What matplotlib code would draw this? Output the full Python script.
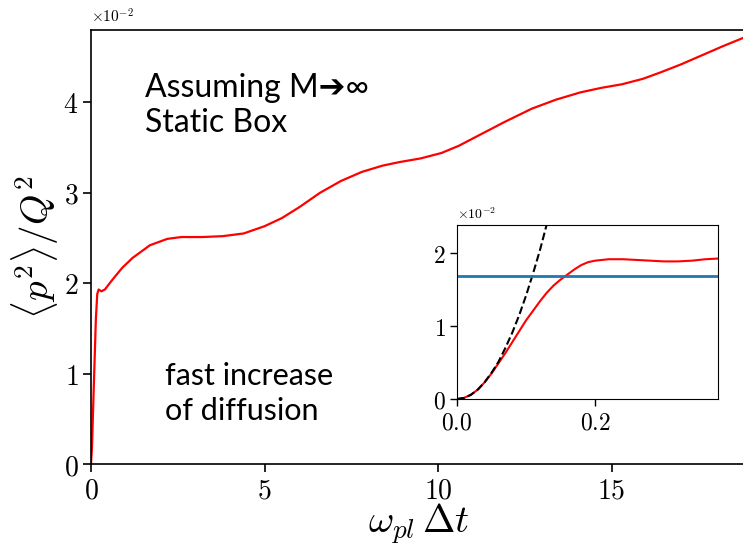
import matplotlib
matplotlib.use("Agg")
import matplotlib.pyplot as plt
from matplotlib.ticker import FuncFormatter
import numpy as np

plt.rcParams['mathtext.fontset'] = 'cm'

# main curve
t_main = [0, 0.03, 0.06, 0.1, 0.14, 0.18, 0.22, 0.3, 0.4, 0.6, 0.9, 1.2, 1.7, 2.2, 2.6, 3.2,
          3.8, 4.4, 5.0, 5.5, 6.0, 6.6, 7.2, 7.8, 8.4, 8.9, 9.5, 10.1, 10.6, 11.2, 11.9,
          12.7, 13.4, 14.1, 14.7, 15.3, 15.9, 16.4, 17.0, 17.6, 18.2, 18.9]
p_main = [0, 0.002, 0.006, 0.011, 0.016, 0.0188, 0.0193, 0.0191, 0.0193, 0.0203, 0.0217,
          0.0228, 0.0242, 0.0249, 0.0251, 0.0251, 0.0252, 0.0255, 0.0263, 0.0272, 0.0284,
          0.0300, 0.0313, 0.0323, 0.0330, 0.0334, 0.0338, 0.0344, 0.0352, 0.0364, 0.0378,
          0.0393, 0.0403, 0.0411, 0.0416, 0.0420, 0.0426, 0.0433, 0.0442, 0.0452, 0.0462, 0.0473]

# inset: early times
t_in = [0, 0.01, 0.02, 0.03, 0.04, 0.05, 0.06, 0.07, 0.08, 0.09, 0.10, 0.11, 0.12, 0.13,
        0.14, 0.15, 0.16, 0.17, 0.18, 0.19, 0.20, 0.22, 0.24, 0.26, 0.28, 0.30, 0.32, 0.34,
        0.36, 0.38]
p_in = [0, 0.00014, 0.00057, 0.00128, 0.0023, 0.0035, 0.0049, 0.0063, 0.0078, 0.0093, 0.0108,
        0.0121, 0.0134, 0.0146, 0.0156, 0.0164, 0.0171, 0.0178, 0.0184, 0.0188, 0.0190,
        0.0192, 0.0192, 0.0191, 0.0190, 0.0189, 0.0189, 0.0190, 0.0192, 0.0193]
t_short = [0, 0.01, 0.02, 0.03, 0.04, 0.05, 0.06, 0.07, 0.08, 0.09, 0.10, 0.11, 0.12, 0.13]
p_short = [0, 0.00014, 0.00057, 0.00128, 0.0023, 0.0036, 0.0051, 0.0070, 0.0091, 0.0115,
           0.0142, 0.0172, 0.0204, 0.0240]
p_level = 0.0169

scale = 100  # axis shows values in units of 1e-2

num = FuncFormatter(lambda v, pos: '$%g$' % v)
num1 = FuncFormatter(lambda v, pos: '$%.1f$' % v)

fig = plt.figure(figsize=(7.43, 5.48), dpi=100)
ax = fig.add_axes([91/743, 84/548, 656/743, 434/548])
ax.plot(t_main, np.array(p_main) * scale, color='red', lw=1.6)
ax.set_xlim(0, 18.9)
ax.set_ylim(0, 4.8)
ax.set_xticks([0, 5, 10, 15])
ax.set_yticks([0, 1, 2, 3, 4])
ax.xaxis.set_major_formatter(num)
ax.yaxis.set_major_formatter(num)
ax.tick_params(labelsize=20, length=6, width=1.2, pad=3)
for s in ax.spines.values():
    s.set_linewidth(1.2)
ax.text(0, 1.01, r'$\times10^{-2}$', transform=ax.transAxes, fontsize=11, va='bottom')
ax.set_xlabel(r'$\omega_{pl}\,\Delta t$', fontsize=28, labelpad=-2)
ax.set_ylabel(r'$\langle p^2\rangle/Q^2$', fontsize=28, labelpad=2)

fig.text(145/743, 1 - 73/548, 'Assuming M➔∞\nStatic Box', fontsize=23, va='top',
         family=['Lato', 'DejaVu Sans'], linespacing=1.2)
fig.text(165/743, 1 - 362/548, 'fast increase\nof diffusion', fontsize=22, va='top',
         family=['Lato', 'DejaVu Sans'], linespacing=1.3)

ins = fig.add_axes([457/743, 149/548, 261/743, 174/548])
ins.plot(t_in, np.array(p_in) * scale, color='red', lw=1.5)
ins.plot(t_short, np.array(p_short) * scale, 'k--', lw=1.5)
ins.axhline(p_level * scale, color='#1f77b4', lw=2)
ins.set_xlim(0, 0.378)
ins.set_ylim(0, 2.39)
ins.set_xticks([0.0, 0.2])
ins.set_yticks([0, 1, 2])
ins.xaxis.set_major_formatter(num1)
ins.yaxis.set_major_formatter(num)
ins.tick_params(labelsize=17, length=5, width=1.0, pad=3)
ins.text(0, 1.02, r'$\times10^{-2}$', transform=ins.transAxes, fontsize=10, va='bottom')

fig.savefig('out.png', dpi=100)
